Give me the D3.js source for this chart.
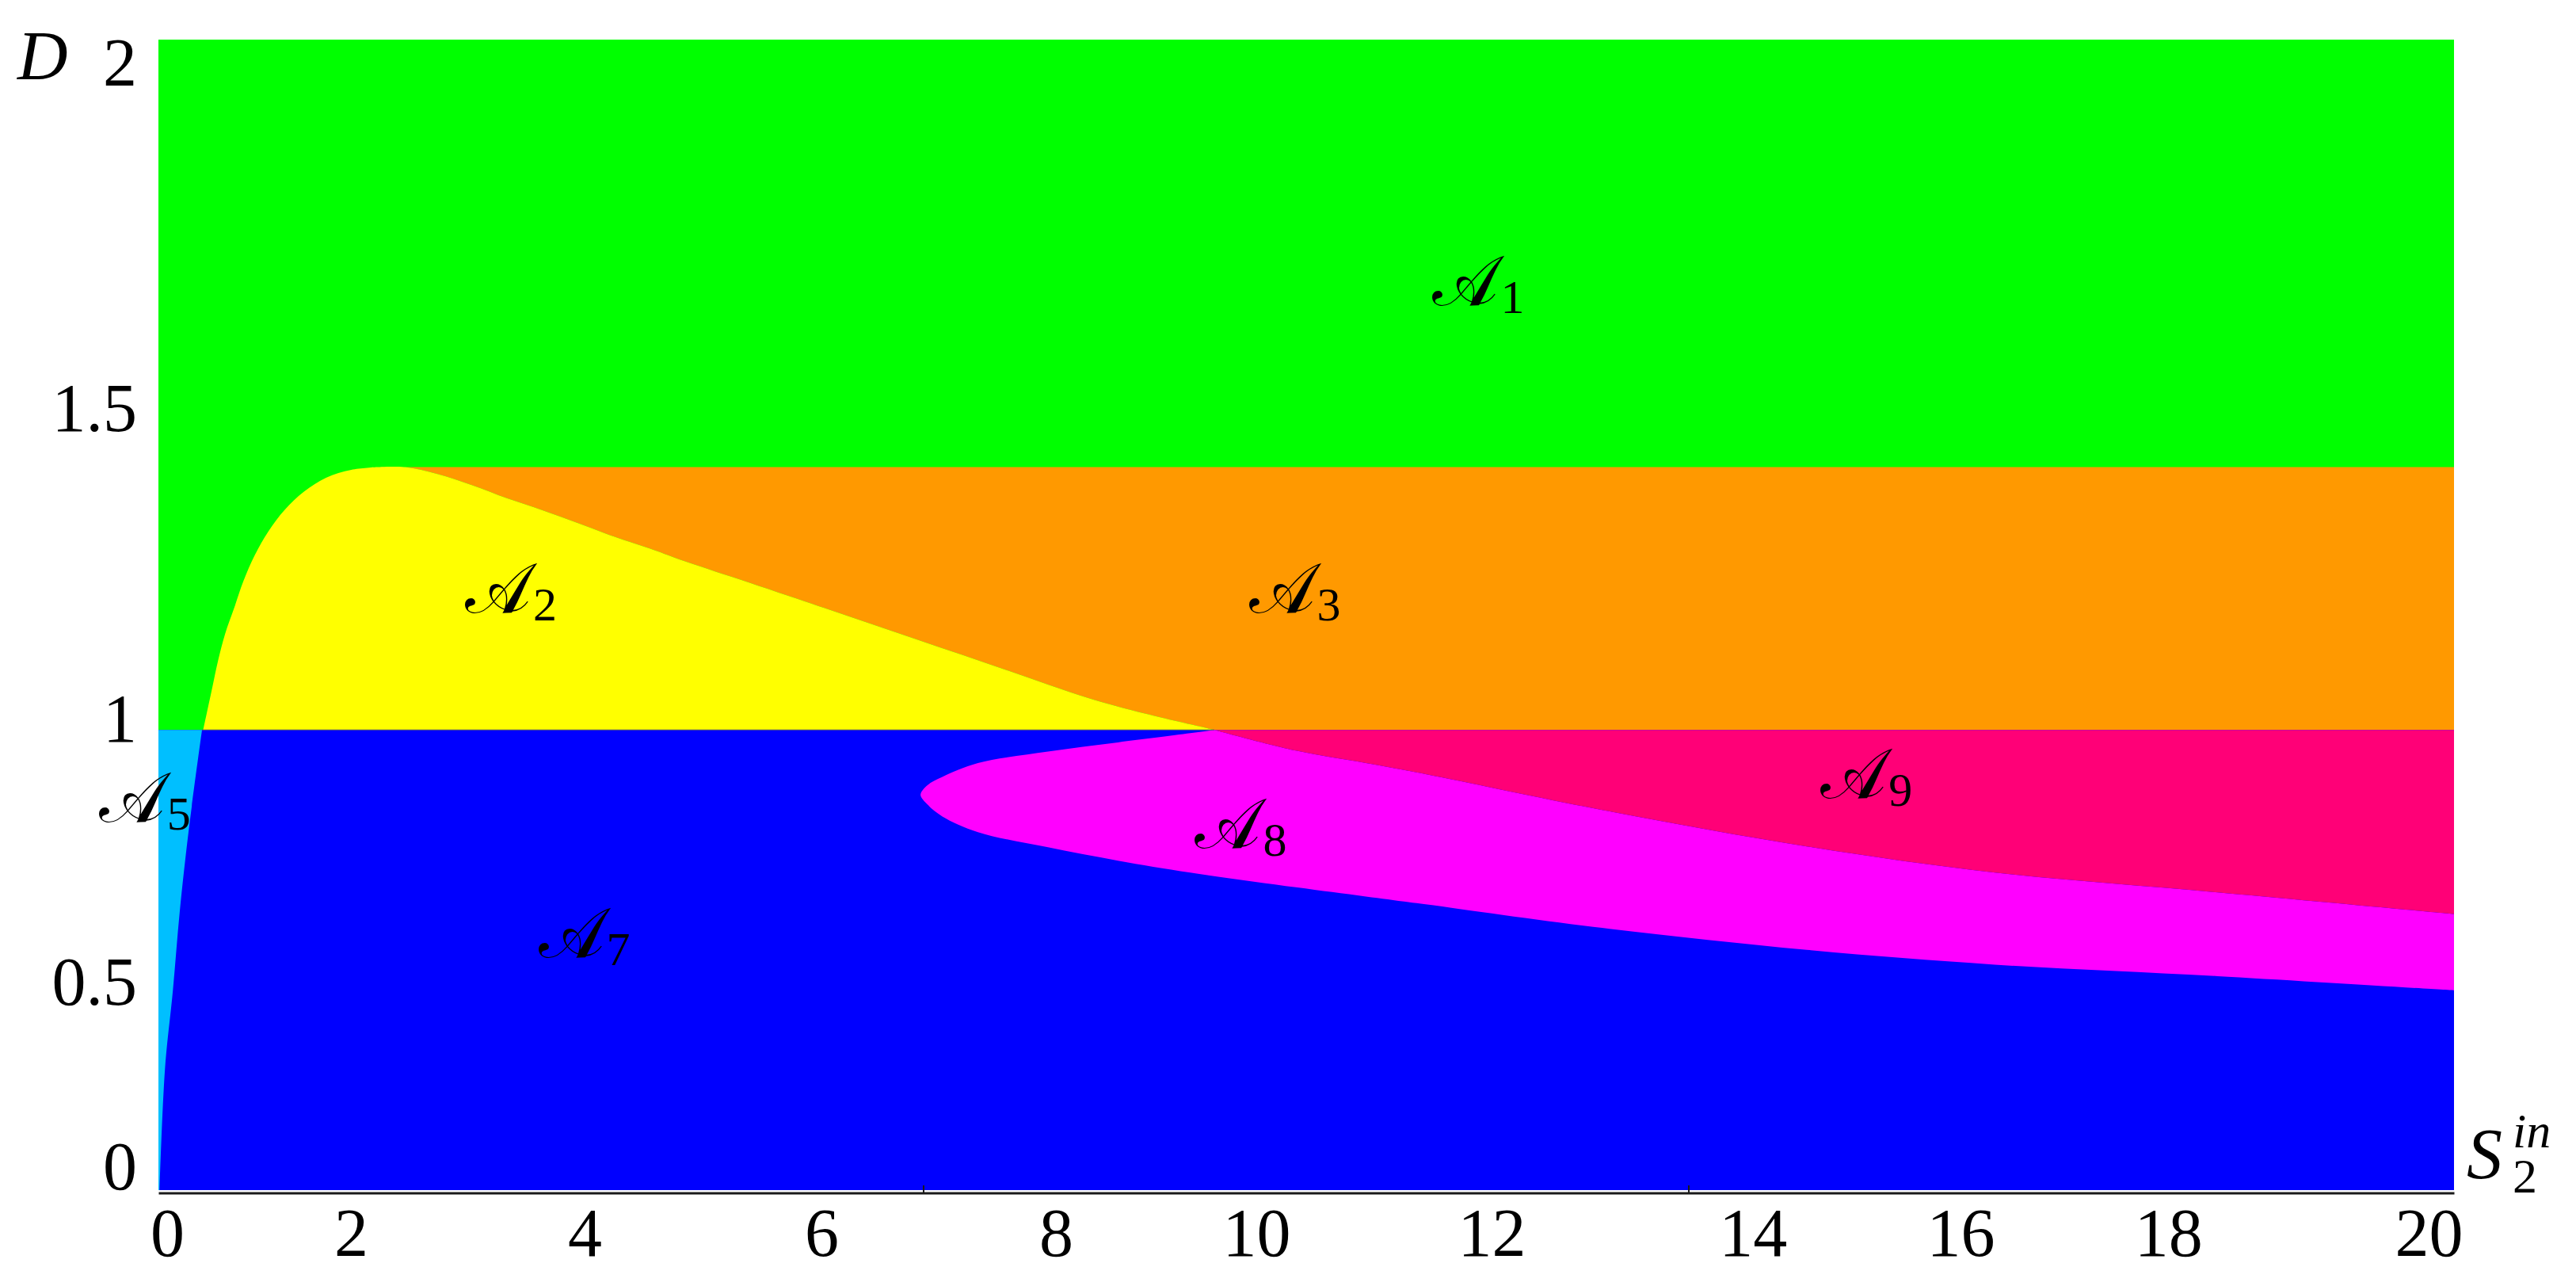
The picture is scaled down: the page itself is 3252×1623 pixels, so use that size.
<!DOCTYPE html>
<html>
<head>
<meta charset="utf-8">
<script src="https://cdn.jsdelivr.net/npm/d3@7"></script>
<style>
  html, body { margin: 0; padding: 0; background: #ffffff; }
  svg { display: block; }
</style>
</head>
<body>
<div id="chart"></div>
<script>
// ---------------- data (S2in, D) ----------------
const xDomain = [0, 20];
const yDomain = [0, 2.5];
const bandTop = 1.571;          // A1 / A3 horizontal boundary
const washoutD = 1.0;           // D = 1 boundary

const xTickLabels = ["0", "2", "4", "6", "8", "10", "12", "14", "16", "18", "20"];
const xTickAt = [0.076, 1.677, 3.713, 5.777, 7.82, 9.565, 11.615, 13.89, 15.70, 17.51, 19.78];
const yTickLabels = ["0", "0.5", "1", "1.5", "2"];
const yTickAt = [0.05, 0.451, 1.022, 1.697, 2.448];
const minorTicks = [20 / 3, 40 / 3];

// A5 / A7 boundary (cyan | blue)
const a5Boundary = [[0.01, 0], [0.057, 0.263], [0.126, 0.434], [0.186, 0.606], [0.262, 0.778], [0.38, 1.0]];
// A1 / A2 boundary (green | yellow), rising branch
const a2Left = [[0.39, 1.0], [0.47, 1.093], [0.52, 1.151], [0.58, 1.208], [0.66, 1.265], [0.74, 1.323],
                [0.84, 1.38], [0.96, 1.432], [1.1, 1.478], [1.27, 1.518], [1.46, 1.548], [1.68, 1.565], [1.9, 1.571]];
// A2 / A3 boundary (yellow | orange), falling branch
const a2Right = [[1.9, 1.571], [2.15, 1.571], [2.43, 1.556], [2.73, 1.532], [3.04, 1.503], [3.35, 1.477], [3.66, 1.449],
                 [3.97, 1.42], [4.28, 1.394], [4.49, 1.375], [5.0, 1.332], [5.8, 1.265], [6.6, 1.197],
                 [7.4, 1.129], [8.09, 1.07], [8.6, 1.035], [9.2, 1.0]];
// A8 upper branch (blue | magenta), from D = 1 back to the tip
const a8Upper = [[9.2, 1.0], [8.99, 0.993], [8.36, 0.973], [7.75, 0.953], [7.14, 0.928], [6.83, 0.898], [6.7, 0.88], [6.64, 0.859]];
// A8 lower branch (magenta | blue), from the tip to the right edge
const a8Lower = [[6.64, 0.859], [6.7, 0.838], [6.83, 0.812], [7.14, 0.778], [7.75, 0.745], [8.36, 0.716], [8.99, 0.69],
                 [9.91, 0.658], [10.52, 0.638], [11.04, 0.621], [12.5, 0.572], [14.36, 0.522], [16, 0.49], [17.94, 0.465], [20, 0.434]];
// A9 / A8 boundary (red | magenta)
const a9Lower = [[9.2, 1.0], [9.91, 0.955], [10.52, 0.928], [11.04, 0.904], [12.5, 0.83], [14.36, 0.747],
                 [16, 0.69], [17.94, 0.647], [20, 0.60]];

const regionNames = ["1", "2", "3", "5", "7", "8", "9"];
const regionLabelS = [11.10, 2.67, 9.50, -0.52, 3.31, 9.03, 14.48];
const regionLabelD = [1.923, 1.255, 1.255, 0.80, 0.506, 0.744, 0.852];

const colors = {
  A1: "#00ff00", A2: "#ffff00", A3: "#ff9900", A5: "#00bfff",
  A7: "#0000ff", A8: "#ff00ff", A9: "#ff0077"
};

// ---------------- layout ----------------
const W = 3252, H = 1623;
const svg = d3.select("#chart").append("svg").attr("width", W).attr("height", H);

const x = d3.scaleLinear().domain(xDomain).range([200, 3098]);
const y = d3.scaleLinear().domain(yDomain).range([1502, 50]);

const lineLin = d3.line().x(d => x(d[0])).y(d => y(d[1]));
const lineCR = d3.line().x(d => x(d[0])).y(d => y(d[1])).curve(d3.curveCatmullRom.alpha(0.5));
const join = (...parts) => parts.map((p, i) => i === 0 ? p : p.replace(/^M/, "L")).join("") + "Z";

const g = svg.append("g");

// A1 background
g.append("rect").attr("x", x(xDomain[0])).attr("y", y(yDomain[1]))
  .attr("width", x(xDomain[1]) - x(xDomain[0])).attr("height", y(washoutD) - y(yDomain[1]))
  .attr("fill", colors.A1);

// A3 orange
g.append("path").attr("fill", colors.A3).attr("d", join(
  lineCR(a2Right),
  lineLin([[xDomain[1], washoutD], [xDomain[1], bandTop]])
));

// A2 yellow
g.append("path").attr("fill", colors.A2).attr("d", join(
  lineCR(a2Left),
  lineCR(a2Right)
));

// A7 blue (below D = 1)
g.append("rect").attr("x", x(xDomain[0])).attr("y", y(washoutD))
  .attr("width", x(xDomain[1]) - x(xDomain[0])).attr("height", y(0) - y(washoutD))
  .attr("fill", colors.A7);

// A5 cyan
g.append("path").attr("fill", colors.A5).attr("d", join(
  lineLin([[0, 0]]),
  lineCR(a5Boundary),
  lineLin([[0, washoutD]])
));

// A8 magenta
g.append("path").attr("fill", colors.A8).attr("d", join(
  lineCR(a8Upper.concat(a8Lower.slice(1))),
  lineCR(a9Lower.slice().reverse())
));

// A9 red
g.append("path").attr("fill", colors.A9).attr("d", join(
  lineCR(a9Lower),
  lineLin([[xDomain[1], washoutD]])
));

// faint D = 1 seam
g.append("line")
  .attr("x1", x(a5Boundary[a5Boundary.length - 1][0])).attr("x2", x(a2Right[a2Right.length - 1][0]))
  .attr("y1", y(washoutD)).attr("y2", y(washoutD))
  .attr("stroke", "#555").attr("stroke-width", 1.5).attr("stroke-opacity", 0.55);

// ---------------- axes ----------------
const fontSerif = "'Liberation Serif', 'DejaVu Serif', serif";

const xAxis = d3.axisBottom(x).tickValues(xTickAt)
  .tickFormat((d, i) => xTickLabels[i]).tickSize(0).tickSizeOuter(0).tickPadding(18);
const gx = svg.append("g").attr("transform", `translate(0,${y(0) + 3.5})`).call(xAxis);
gx.select(".domain").attr("stroke", "#1a1a1a").attr("stroke-width", 3);
gx.selectAll("text").attr("font-family", fontSerif).attr("font-size", 86).attr("fill", "#000");

// minor tick marks at thirds
svg.append("g").selectAll("line").data(minorTicks).join("line")
  .attr("x1", d => x(d)).attr("x2", d => x(d))
  .attr("y1", y(0) - 6).attr("y2", y(0) + 3)
  .attr("stroke", "#1a1a1a").attr("stroke-width", 2);

const yAxis = d3.axisLeft(y).tickValues(yTickAt)
  .tickFormat((d, i) => yTickLabels[i]).tickSize(0).tickSizeOuter(0).tickPadding(27);
const gy = svg.append("g").attr("transform", `translate(${x(0)},0)`).call(yAxis);
gy.select(".domain").remove();
gy.selectAll("text").attr("font-family", fontSerif).attr("font-size", 86).attr("fill", "#000");

// axis titles
svg.append("text").attr("x", 22).attr("y", 100)
  .attr("font-family", fontSerif).attr("font-style", "italic").attr("font-size", 88).text("D");
svg.append("text").attr("x", 3114).attr("y", 1487)
  .attr("font-family", fontSerif).attr("font-style", "italic").attr("font-size", 90).text("S");
svg.append("text").attr("x", 3172).attr("y", 1448)
  .attr("font-family", fontSerif).attr("font-style", "italic").attr("font-size", 62).text("in");
svg.append("text").attr("x", 3172).attr("y", 1505)
  .attr("font-family", fontSerif).attr("font-size", 62).text("2");

// region labels: script A plus subscript index
const labelG = svg.append("g").selectAll("g").data(regionNames).join("g")
  .attr("transform", (d, i) => `translate(${x(regionLabelS[i])},${y(regionLabelD[i])})`);
const mainA = labelG.append("text")
  .attr("font-family", "'DejaVu Serif', 'DejaVu Sans', serif")
  .attr("font-size", 88).attr("fill", "#000").text("𝒜");
labelG.each(function () {
  const grp = d3.select(this);
  const wA = grp.select("text").node().getComputedTextLength();
  grp.append("text")
    .attr("x", wA + 3).attr("y", 10)
    .attr("font-family", fontSerif).attr("font-size", 60).attr("fill", "#000")
    .text(grp.datum());
});
</script>
</body>
</html>
